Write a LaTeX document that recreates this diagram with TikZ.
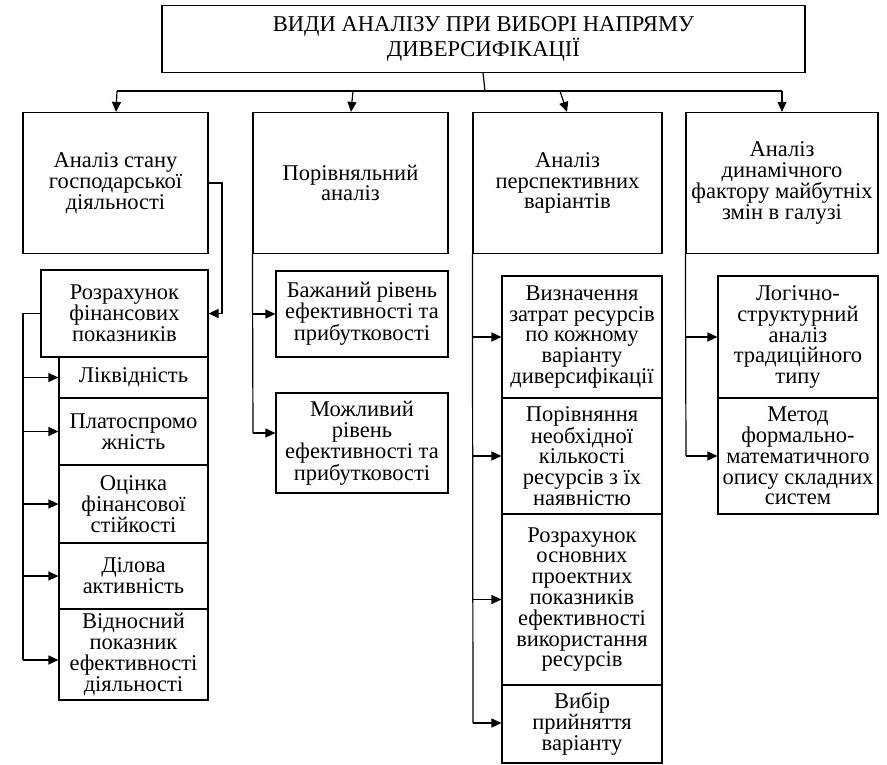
\documentclass[tikz,border=0pt]{standalone}
\usepackage{fontspec}
\setmainfont{Liberation Serif}
\usetikzlibrary{arrows.meta,calc}
\tikzset{
  bx/.style={draw, line width=1.2pt, align=center, inner sep=0pt,
    font=\fontsize{22.5}{20.8}\selectfont},
  ln/.style={line width=1.2pt},
  ar/.style={line width=1.2pt, -{Triangle[length=10pt,width=9pt]}},
}
\begin{document}
\begin{tikzpicture}[x=1pt,y=-1pt]
\useasboundingbox (0,0) rectangle (887,764);
% title
\node[bx, minimum width=643, minimum height=67.5, font=\fontsize{22.6}{25}\selectfont] (title) at (483.5,39)
  {ВИДИ АНАЛІЗУ ПРИ ВИБОРІ НАПРЯМУ\\ДИВЕРСИФІКАЦІЇ};
% level 1
\node[bx, minimum width=185, minimum height=141] (b1) at (115.5,183) {Аналіз стану\\господарської\\діяльності};
\node[bx, minimum width=195, minimum height=141] (b2) at (350.5,183) {Порівняльний\\аналіз};
\node[bx, minimum width=189, minimum height=141] (b3) at (567.5,183) {Аналіз\\перспективних\\варіантів};
\node[bx, minimum width=192, minimum height=141] (b4) at (782,183) {Аналіз\\динамічного\\фактору майбутніх\\змін в галузі};
% column 1
\node[bx, minimum width=167, minimum height=87] (r1) at (124.5,313.5) {Розрахунок\\фінансових\\показників};
\node[bx, minimum width=149, minimum height=41] (l1) at (133.5,377.5) {Ліквідність};
\node[bx, minimum width=149, minimum height=67] (l2) at (133.5,431.5) {Платоспромо\\жність};
\node[bx, minimum width=149, minimum height=78] (l3) at (133.5,504) {Оцінка\\фінансової\\стійкості};
\node[bx, minimum width=149, minimum height=66] (l4) at (133.5,576) {Ділова\\активність};
\node[bx, minimum width=149, minimum height=91] (l5) at (133.5,654.5) {Відносний\\показник\\ефективності\\діяльності};
% column 2
\node[bx, minimum width=172, minimum height=86] (p1) at (362,314) {Бажаний рівень\\ефективності та\\прибутковості};
\node[bx, minimum width=172, minimum height=100] (p2) at (362,443) {Можливий\\рівень\\ефективності та\\прибутковості};
% column 3
\node[bx, minimum width=160, minimum height=122] (v1) at (582,337) {Визначення\\затрат ресурсів\\по кожному\\варіанту\\диверсифікації};
\node[bx, minimum width=160, minimum height=116] (v2) at (582,456) {Порівняння\\необхідної\\кількості\\ресурсів з їх\\наявністю};
\node[bx, minimum width=160, minimum height=171] (v3) at (582,599.5) {Розрахунок\\основних\\проектних\\показників\\ефективності\\використання\\ресурсів};
\node[bx, minimum width=160, minimum height=78] (v4) at (582,724) {Вибір\\прийняття\\варіанту};
% column 4
\node[bx, minimum width=160, minimum height=122] (m1) at (798,337) {Логічно-\\структурний\\аналіз\\традиційного\\типу};
\node[bx, minimum width=160, minimum height=116] (m2) at (798,456) {Метод\\формально-\\математичного\\опису складних\\систем};

% top bus
\coordinate (t0) at (483,72.7);
\coordinate (t1) at (485,91);
\coordinate (hl) at (117,91);
\coordinate (hr) at (782,91);
\coordinate (h2) at (353,91);
\coordinate (h3) at (560,91);
\draw[ln] (t0) -- (t1);
\draw[ln] (hl) -- (hr);
\draw[ar] (hl) -- ($(b1.north)+(0.5,0)$);
\draw[ar] (h2) -- ($(b2.north)+(0.5,0)$);
\draw[ar] (h3) -- ($(b3.north)+(-0.5,0)$);
\draw[ar] (hr) -- (b4.north);

% column 1 connectors
\coordinate (c1a) at (222,183);
\draw[ar] (b1.east |- c1a) -- (c1a) |- (r1.east);
\coordinate (c1b) at (23,660);
\draw[ln] (r1.west) -| (c1b);
\draw[ar] (l1.west -| c1b) -- (l1.west);
\draw[ar] (l2.west -| c1b) -- (l2.west);
\draw[ar] (l3.west -| c1b) -- (l3.west);
\draw[ar] (l4.west -| c1b) -- (l4.west);
\draw[ar] (c1b) -- (c1b -| l5.west);

% column 2 connectors
\coordinate (c2b) at (253,433);
\draw[ln] (b2.south west) -- (c2b);
\draw[ar] (p1.west -| c2b) -- (p1.west);
\draw[ar] (c2b) -- (c2b -| p2.west);

% column 3 connectors
\coordinate (c3b) at (473,723);
\draw[ln] (b3.south west) -- (c3b);
\draw[ar] (v1.west -| c3b) -- (v1.west);
\draw[ar] (v2.west -| c3b) -- (v2.west);
\draw[ar] (v3.west -| c3b) -- (v3.west);
\draw[ar] (c3b) -- (c3b -| v4.west);

% column 4 connectors
\coordinate (c4b) at (686,456);
\draw[ln] (b4.south west) -- (c4b);
\draw[ar] (m1.west -| c4b) -- (m1.west);
\draw[ar] (c4b) -- (m2.west);
\end{tikzpicture}
\end{document}
